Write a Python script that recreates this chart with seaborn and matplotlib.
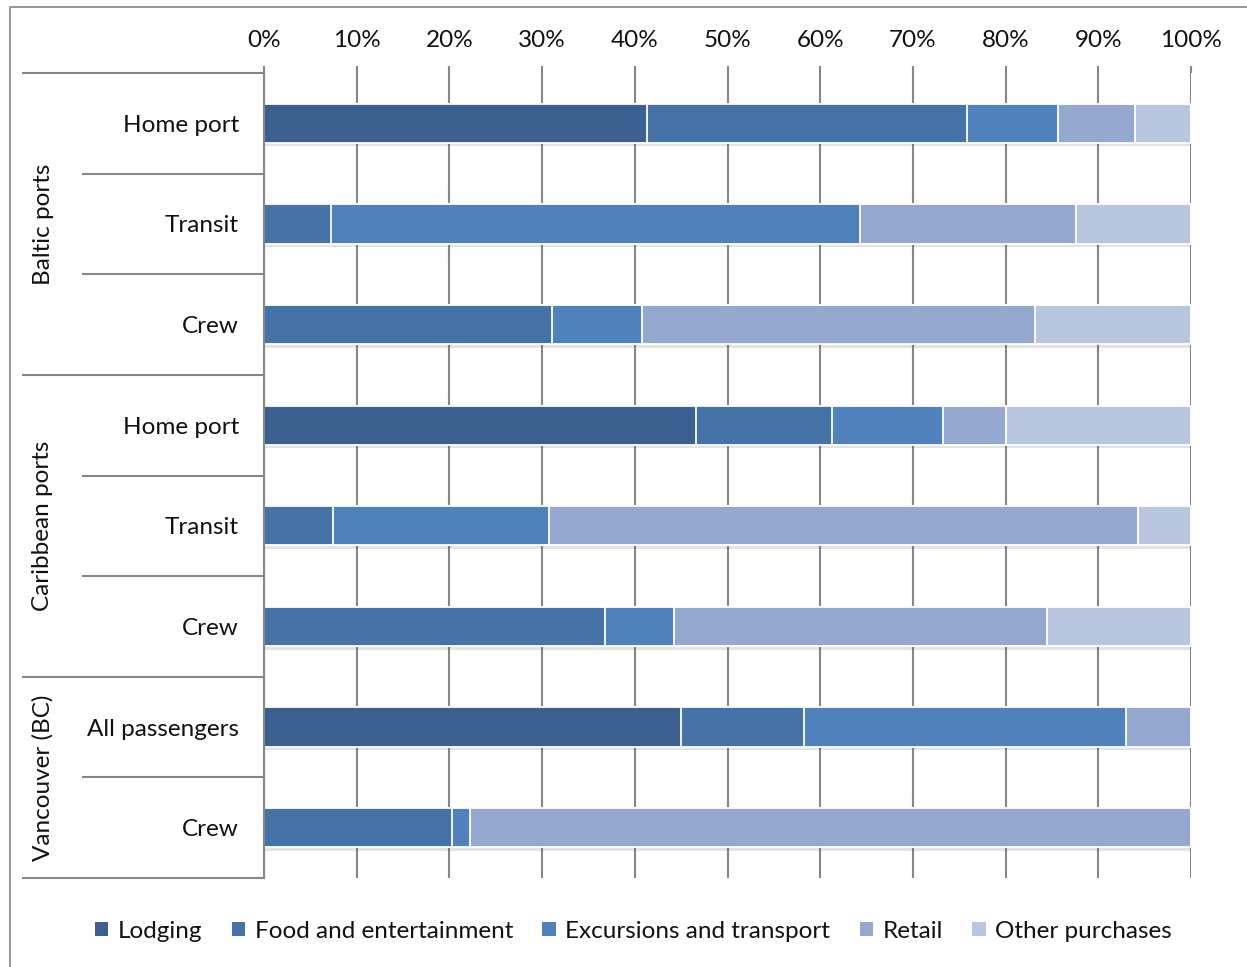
import numpy as np
import pandas as pd
import matplotlib
matplotlib.use("Agg")
import matplotlib.pyplot as plt
import matplotlib.patches as mpatches
import matplotlib.patheffects as pe
import matplotlib.transforms as mtransforms
import seaborn as sns

# Spending shares (% of total) by visitor type and port group
groups = ["Baltic ports", "Caribbean ports", "Vancouver (BC)"]
group_sizes = [3, 3, 2]
row_labels = ["Home port", "Transit", "Crew",
              "Home port", "Transit", "Crew",
              "All passengers", "Crew"]
series = ["Lodging", "Food and entertainment", "Excursions and transport",
          "Retail", "Other purchases"]

lodging = [41.3, 0.0, 0.0, 46.6, 0.0, 0.0, 45.0, 0.0]
food = [34.5, 7.2, 31.1, 14.7, 7.4, 36.8, 13.2, 20.3]
excursions = [9.8, 57.1, 9.7, 12.0, 23.3, 7.4, 34.8, 1.9]
retail = [8.4, 23.3, 42.4, 6.7, 63.6, 40.3, 7.0, 77.8]
other = [6.0, 12.4, 16.8, 20.0, 5.7, 15.5, 0.0, 0.0]

colors = ["#3B608F", "#4572A7", "#4F81BD", "#95A8D0", "#B9C6E0"]
grey = "#868686"
fs = 17.5

sns.set_theme(style="white")
plt.rcParams["font.family"] = ["Lato", "DejaVu Sans"]

# row keys must be unique for the categorical axis
keys = [f"{g}|{i}" for g, n in zip(groups, group_sizes) for i in range(n)]
df = pd.DataFrame({"row": keys, "Lodging": lodging,
                   "Food and entertainment": food,
                   "Excursions and transport": excursions,
                   "Retail": retail, "Other purchases": other})
cum = df[series].cumsum(axis=1)
cum["row"] = df["row"]

fig = plt.figure(figsize=(12.47, 9.67), dpi=100)
ax = fig.add_axes([264 / 1247, 1 - 878 / 967, (1191 - 264) / 1247, (878 - 73) / 967])

# stacked bars: draw cumulative totals from the outermost segment inward
for i in reversed(range(len(series))):
    sns.barplot(data=cum, x=series[i], y="row", order=keys, color=colors[i],
                orient="h", width=0.39, edgecolor="white", linewidth=1.3,
                saturation=1, ax=ax)
    if i == len(series) - 1:
        for p in ax.patches:
            p.set_path_effects([pe.SimplePatchShadow(offset=(0.5, -2.5), alpha=0.15,
                                                     shadow_rgbFace="#444444"),
                                pe.Normal()])

ax.set_xlim(0, 100)
ax.set_ylim(7.5, -0.5)
ax.set_xticks(np.arange(0, 101, 10))
ax.set_xticklabels([f"{v}%" for v in range(0, 101, 10)])
ax.xaxis.set_ticks_position("top")
ax.xaxis.set_label_position("top")
ax.tick_params(axis="x", length=5, width=1.5, color=grey, pad=10.5,
               labelsize=fs, labelcolor="#111111")
ax.set_xlabel("")
ax.set_ylabel("")
ax.grid(axis="x", color=grey, linewidth=1.5)
ax.set_axisbelow(True)

ax.set_yticks(range(len(keys)))
ax.set_yticklabels(row_labels)
ax.tick_params(axis="y", length=0, pad=18, labelsize=fs, labelcolor="#111111")

for s in ["top", "right", "bottom"]:
    ax.spines[s].set_visible(False)
ax.spines["left"].set_color(grey)
ax.spines["left"].set_linewidth(1.5)

# multi-level category axis on the left
trans = mtransforms.blended_transform_factory(ax.transAxes, ax.transData)
x_long = (22 - 264) / 927
x_short = (82 - 264) / 927
bounds = np.cumsum([0] + group_sizes) - 0.5
for y in np.arange(-0.5, 8.0, 1.0):
    x0 = x_long if y in bounds else x_short
    ax.plot([x0, 0], [y, y], transform=trans, color=grey, lw=1.5,
            clip_on=False, solid_capstyle="butt")
for g, b0, b1 in zip(groups, bounds[:-1], bounds[1:]):
    ax.text((43 - 264) / 927, (b0 + b1) / 2, g, transform=trans, rotation=90,
            ha="center", va="center", fontsize=fs, color="#111111")

# legend
handles = [mpatches.Patch(facecolor=c, edgecolor="none", label=s)
           for c, s in zip(colors, series)]
fig.legend(handles=handles, loc="center", bbox_to_anchor=(0.508, 1 - 931 / 967),
           ncol=5, frameon=False, fontsize=fs, handlelength=0.55, handleheight=0.55,
           handletextpad=0.4, columnspacing=1.2, labelcolor="#111111")

# chart border
fig.patches.append(mpatches.Rectangle((10 / 1247, -0.05), 1.0, 1.05 - 7 / 967,
                                      transform=fig.transFigure, fill=False,
                                      edgecolor=grey, linewidth=1.2))

fig.savefig("out.png", dpi=100, facecolor="white")
